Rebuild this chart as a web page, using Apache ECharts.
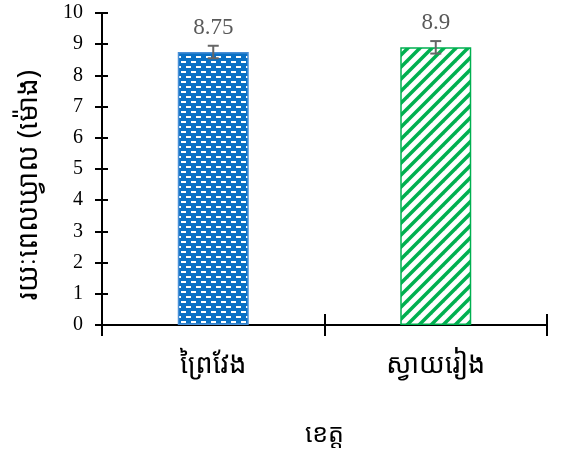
<!DOCTYPE html>
<html><head><meta charset="utf-8">
<script src="https://cdn.jsdelivr.net/npm/echarts@6/dist/echarts.min.js"></script>
<style>html,body{margin:0;padding:0;background:#fff}#c{width:573px;height:466px}</style>
</head><body><div id="c"></div>
<script>
const categories = ['ព្រៃវែង', 'ស្វាយរៀង'];
const values = [8.75, 8.9];
const errors = [0.2, 0.2];
const yTicks = [0, 1, 2, 3, 4, 5, 6, 7, 8, 9, 10];
const yTitle = 'រយៈពេលឃ្វាល (ម៉ោង)';
const xTitle = 'ខេត្ត';

function bluePattern() {
  const c = document.createElement('canvas'); c.width = 10; c.height = 10;
  const g = c.getContext('2d');
  g.fillStyle = '#0A70C4'; g.fillRect(0, 0, 10, 10);
  g.fillStyle = '#ffffff';
  g.fillRect(1, 1, 5, 2); g.fillRect(6, 6, 5, 2); g.fillRect(-4, 6, 5, 2);
  return c;
}
function greenPattern() {
  const c = document.createElement('canvas'); c.width = 12; c.height = 12;
  const g = c.getContext('2d');
  g.fillStyle = '#ffffff'; g.fillRect(0, 0, 12, 12);
  g.strokeStyle = '#00B050'; g.lineWidth = 3.5;
  for (let k = -1; k <= 1; k++) {
    g.beginPath(); g.moveTo(-2 + k * 12, 14); g.lineTo(14 + k * 12, -2); g.stroke();
  }
  return c;
}
const fills = [bluePattern(), greenPattern()];
const borders = ['#4A8FD6', '#00B050'];
const serif = 'Liberation Serif, Times New Roman, serif';
const khmer = 'Noto Sans Khmer, Khmer OS, Noto Sans, sans-serif';

const chart = echarts.init(document.getElementById('c'));
chart.setOption({
  animation: false,
  grid: { left: 102, right: 26, top: 13, bottom: 141 },
  xAxis: [{
    type: 'category', data: categories,
    axisLine: { lineStyle: { color: '#000', width: 2 } },
    axisTick: { show: true, length: 11, lineStyle: { color: '#000', width: 2 } },
    axisLabel: { color: '#000', fontSize: 27, fontFamily: khmer, margin: 27 },
    name: xTitle, nameLocation: 'middle', nameGap: 97,
    nameTextStyle: { color: '#000', fontSize: 25, fontFamily: khmer }
  }, {
    type: 'category', data: categories, position: 'bottom',
    axisLine: { show: false },
    axisTick: { show: true, inside: true, length: 11, lineStyle: { color: '#000', width: 2 } },
    axisLabel: { show: false }
  }],
  yAxis: [{
    type: 'value', min: 0, max: 10, interval: 1,
    axisLine: { show: true, lineStyle: { color: '#000', width: 2 } },
    axisTick: { show: true, length: 7, lineStyle: { color: '#000', width: 2 } },
    splitLine: { show: false },
    axisLabel: { color: '#000', fontSize: 20, fontFamily: serif, margin: 19,
      formatter: v => yTicks.includes(v) ? String(v) : '' },
    name: yTitle, nameLocation: 'middle', nameGap: 59, nameRotate: 90,
    nameTextStyle: { color: '#000', fontSize: 28, fontFamily: khmer, padding: [0, 32, 0, 0] }
  }, {
    type: 'value', min: 0, max: 10, interval: 1, position: 'left',
    axisLine: { show: false },
    axisTick: { show: true, inside: true, length: 6, lineStyle: { color: '#000', width: 2 } },
    splitLine: { show: false }, axisLabel: { show: false }
  }],
  series: [{
    type: 'bar', barWidth: 71,
    data: values.map((v, i) => ({
      value: v,
      itemStyle: { color: { image: fills[i], repeat: 'repeat' }, borderColor: borders[i], borderWidth: 1.5 }
    }))
  }, {
    type: 'custom',
    data: values.map((v, i) => [i, v - errors[i], v + errors[i], v]),
    renderItem: function (params, api) {
      const lo = api.coord([api.value(0), api.value(1)]);
      const hi = api.coord([api.value(0), api.value(2)]);
      const top = api.coord([api.value(0), api.value(3)]);
      const w = 5.5;
      const st = { stroke: '#666666', lineWidth: 2 };
      return { type: 'group', children: [
        { type: 'line', shape: { x1: lo[0], y1: lo[1], x2: hi[0], y2: hi[1] }, style: st },
        { type: 'line', shape: { x1: lo[0] - w, y1: lo[1], x2: lo[0] + w, y2: lo[1] }, style: st },
        { type: 'line', shape: { x1: hi[0] - w, y1: hi[1], x2: hi[0] + w, y2: hi[1] }, style: st },
        { type: 'text', x: top[0], y: top[1] - 24, style: {
            text: String(values[params.dataIndex]), fill: '#595959',
            font: '23px Liberation Serif, Times New Roman, serif',
            align: 'center', verticalAlign: 'middle' } }
      ]};
    },
    z: 5
  }]
});
</script></body></html>
